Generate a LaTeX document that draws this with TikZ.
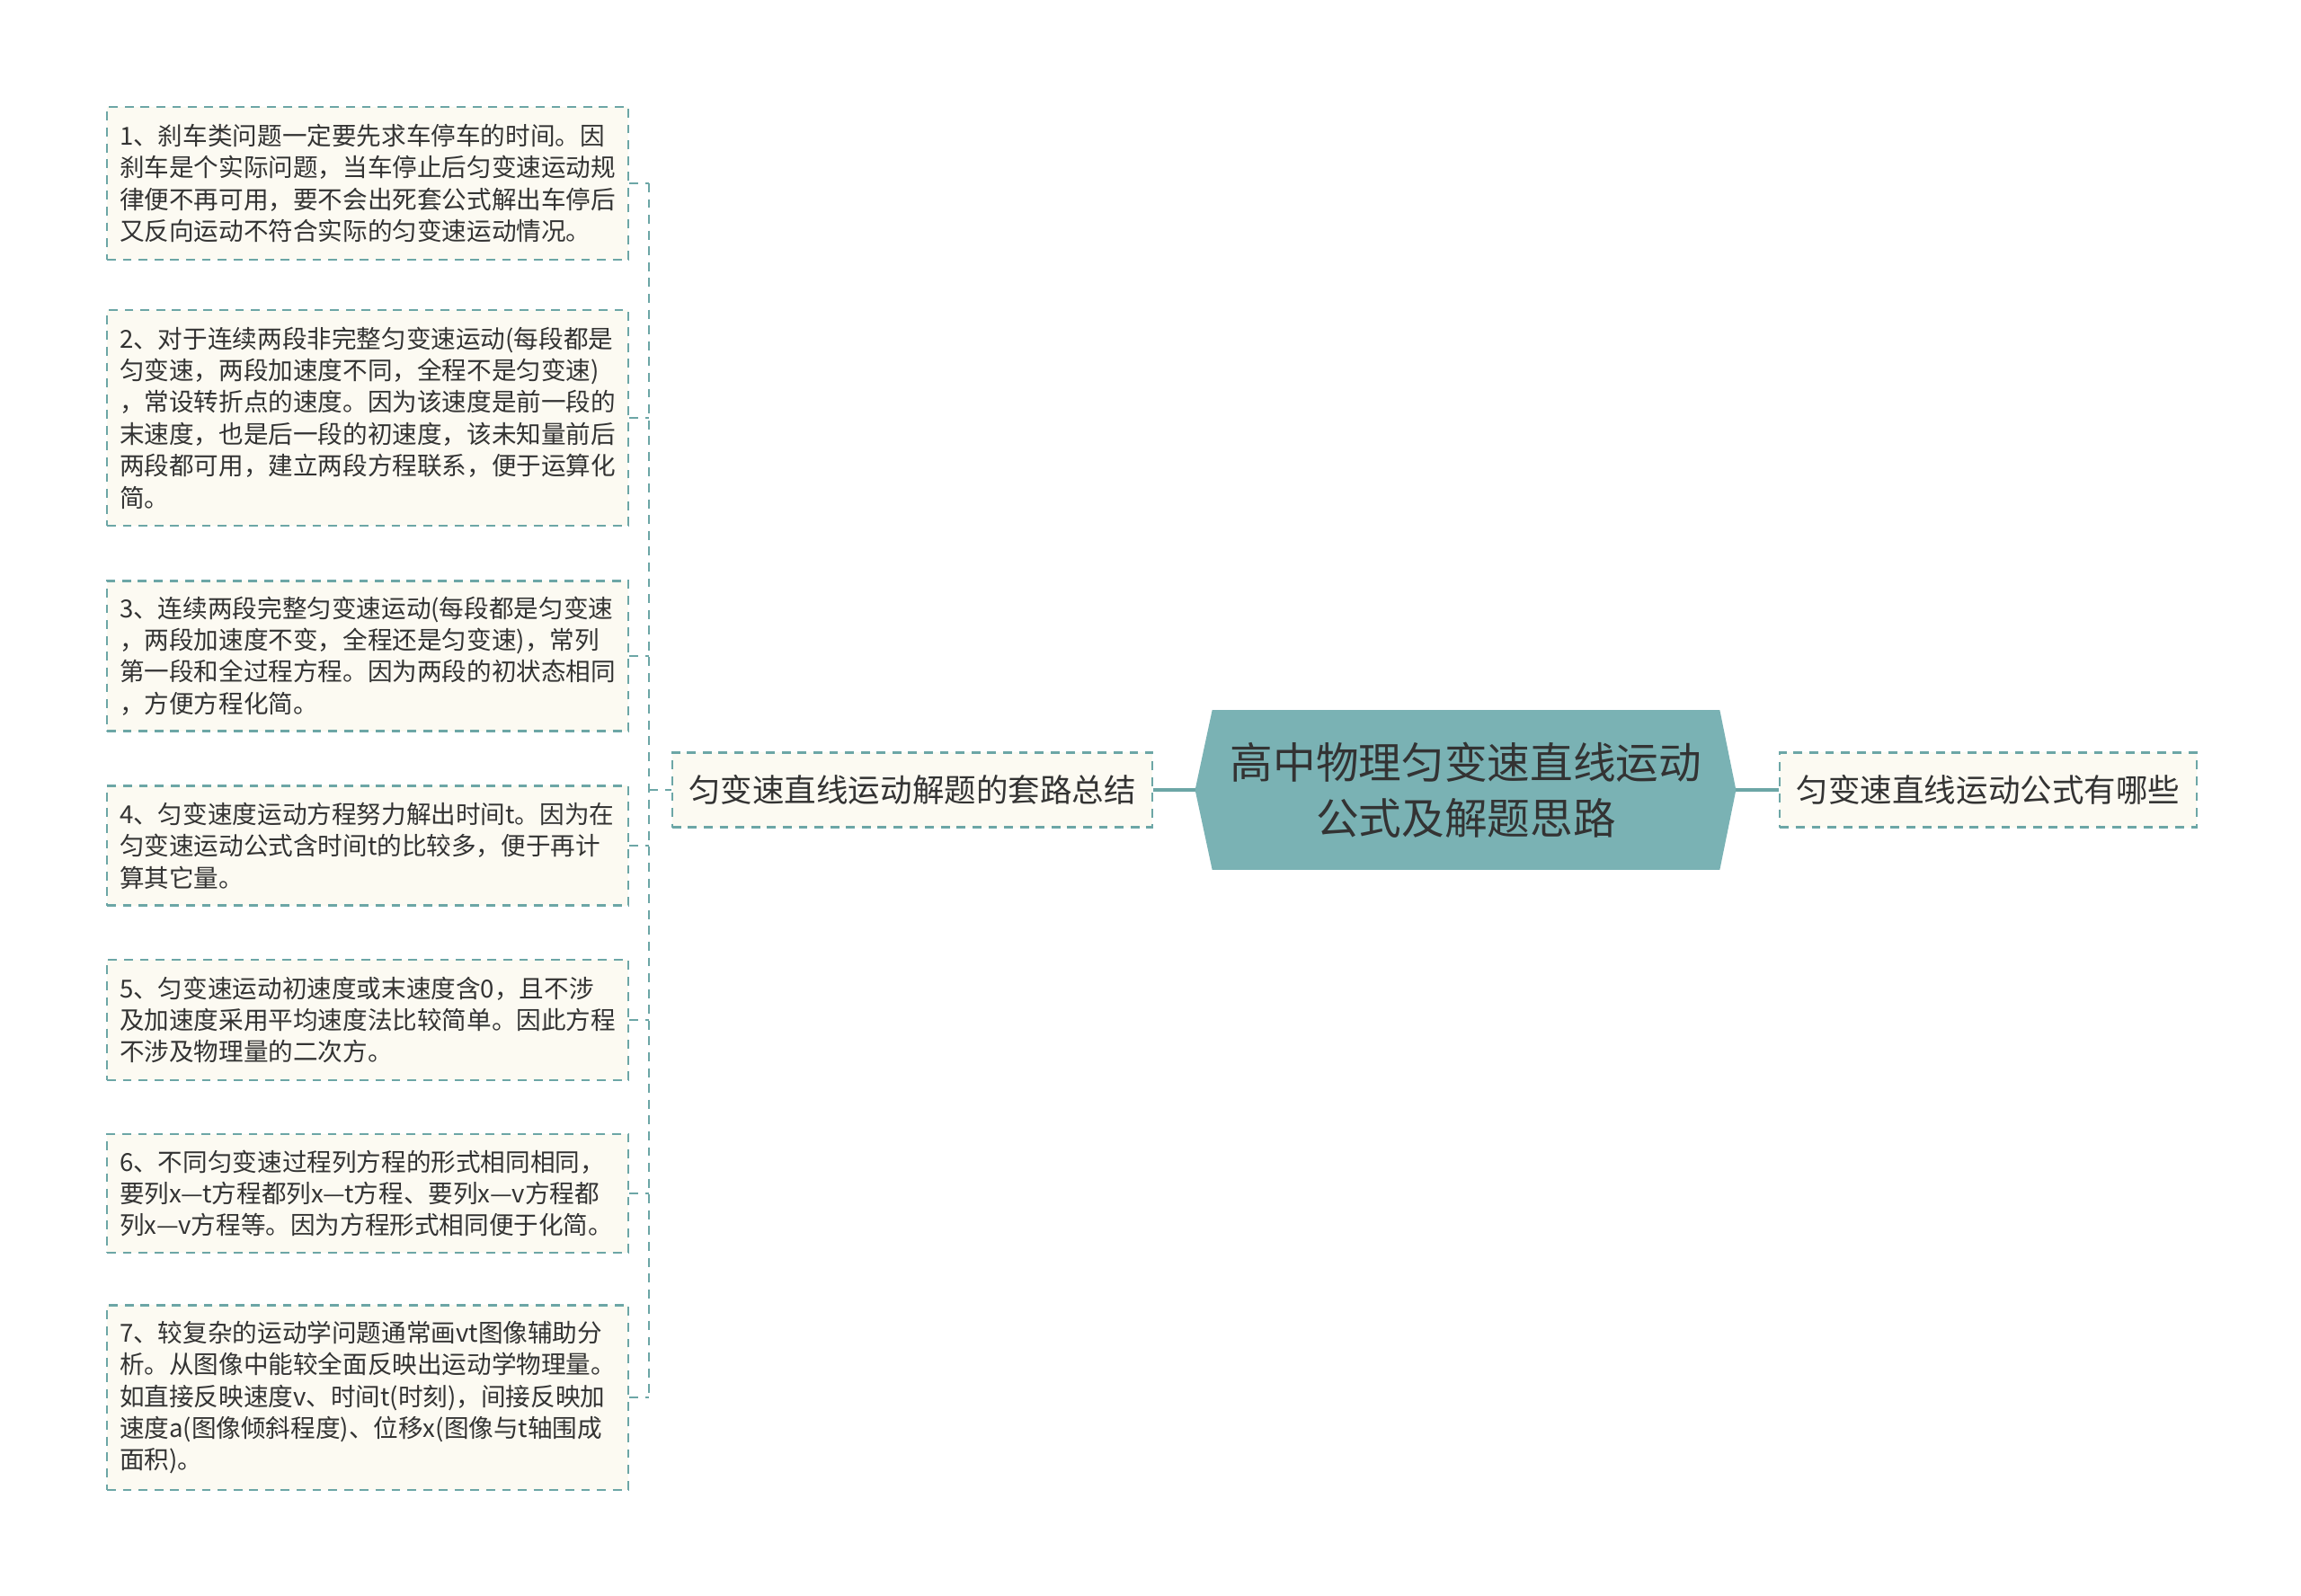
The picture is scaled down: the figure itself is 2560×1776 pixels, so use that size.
\documentclass[tikz,border=0pt]{standalone}
\usepackage{fontspec}
\newfontfamily\zhfont{Noto Sans CJK SC}
\usetikzlibrary{backgrounds}
\setlength{\parindent}{0pt}

\definecolor{mapline}{RGB}{108,166,166}
\definecolor{leaffill}{RGB}{252,250,242}
\definecolor{hubfill}{RGB}{122,178,180}
\definecolor{inkgrey}{RGB}{51,51,51}

\begin{document}
\begin{tikzpicture}[x=0.01cm, y=-0.01cm,
    leaf/.style={draw=mapline, line width=0.6pt, dash pattern=on 2.8pt off 2.2pt,
        fill=leaffill, text=inkgrey, font=\zhfont\fontsize{7.85pt}{10.07pt}\selectfont,
        text width=5.52cm, align=left, inner xsep=0.14cm, inner ysep=0pt, anchor=west},
    branch/.style={draw=mapline, line width=0.6pt, dash pattern=on 2.8pt off 2.2pt,
        fill=leaffill, text=inkgrey, font=\zhfont\fontsize{10.1pt}{12pt}\selectfont,
        minimum height=0.83cm, inner xsep=0.185cm},
    hub/.style={font=\zhfont\fontsize{13.55pt}{17.65pt}\selectfont, text=inkgrey,
        align=center, minimum width=5.63cm, minimum height=1.76cm, inner sep=0pt},
    twig/.style={draw=mapline, line width=0.6pt, dash pattern=on 2.8pt off 2.2pt},
    spine/.style={draw=mapline, line width=0.9pt}
    ]

        \useasboundingbox (0,0) rectangle (2560,1776);

        % centre

        \node [hub] (hub) at (1631,879) {高中物理匀变速直线运动\\公式及解题思路};
        \coordinate (hub-w) at ([xshift=-0.19cm]hub.west);
        \coordinate (hub-e) at ([xshift=0.18cm]hub.east);
        \begin{scope}[on background layer]
            \fill [white] (0,0) rectangle (2560,1776);
            \fill [hubfill] (hub.north west) -- (hub.north east) -- (hub-e)
                -- (hub.south east) -- (hub.south west) -- (hub-w) -- cycle;
        \end{scope}

        % branches

        \node [branch] (sum) at (1015,879) {匀变速直线运动解题的套路总结};
        \node [branch] (ask) at (2212,879) {匀变速直线运动公式有哪些};

        \draw [spine] (sum) -- (hub-w);
        \draw [spine] (hub-e) -- (ask);

        % leaves

        \node [leaf, minimum height=1.70cm] (tip1) at (118,204)
            {1、刹车类问题一定要先求车停车的时间。因\\刹车是个实际问题，当车停止后匀变速运动规\\律便不再可用，要不会出死套公式解出车停后\\又反向运动不符合实际的匀变速运动情况。};
        \node [leaf, minimum height=2.40cm] (tip2) at (118,465)
            {2、对于连续两段非完整匀变速运动(每段都是\\匀变速，两段加速度不同，全程不是匀变速)\\，常设转折点的速度。因为该速度是前一段的\\末速度，也是后一段的初速度，该未知量前后\\两段都可用，建立两段方程联系，便于运算化\\简。};
        \node [leaf, minimum height=1.67cm] (tip3) at (118,730)
            {3、连续两段完整匀变速运动(每段都是匀变速\\，两段加速度不变，全程还是匀变速)，常列\\第一段和全过程方程。因为两段的初状态相同\\，方便方程化简。};
        \node [leaf, minimum height=1.33cm] (tip4) at (118,941)
            {4、匀变速度运动方程努力解出时间t。因为在\\匀变速运动公式含时间t的比较多，便于再计\\算其它量。};
        \node [leaf, minimum height=1.34cm] (tip5) at (118,1135)
            {5、匀变速运动初速度或末速度含0，且不涉\\及加速度采用平均速度法比较简单。因此方程\\不涉及物理量的二次方。};
        \node [leaf, minimum height=1.32cm] (tip6) at (118,1328)
            {6、不同匀变速过程列方程的形式相同相同，\\要列x—t方程都列x—t方程、要列x—v方程都\\列x—v方程等。因为方程形式相同便于化简。};
        \node [leaf, minimum height=2.05cm] (tip7) at (118,1555)
            {7、较复杂的运动学问题通常画vt图像辅助分\\析。从图像中能较全面反映出运动学物理量。\\如直接反映速度v、时间t(时刻)，间接反映加\\速度a(图像倾斜程度)、位移x(图像与t轴围成\\面积)。};

        % bracket

        \coordinate (fork) at (722,879);

        \draw [twig] (tip1.east) -- (tip1.east -| fork);
        \draw [twig] (tip2.east) -- (tip2.east -| fork);
        \draw [twig] (tip3.east) -- (tip3.east -| fork);
        \draw [twig] (tip4.east) -- (tip4.east -| fork);
        \draw [twig] (tip5.east) -- (tip5.east -| fork);
        \draw [twig] (tip6.east) -- (tip6.east -| fork);
        \draw [twig] (tip7.east) -- (tip7.east -| fork);
        \draw [twig] (tip1.east -| fork) -- (tip7.east -| fork);
        \draw [twig] (fork) -- (sum);

    \end{tikzpicture}
\end{document}
